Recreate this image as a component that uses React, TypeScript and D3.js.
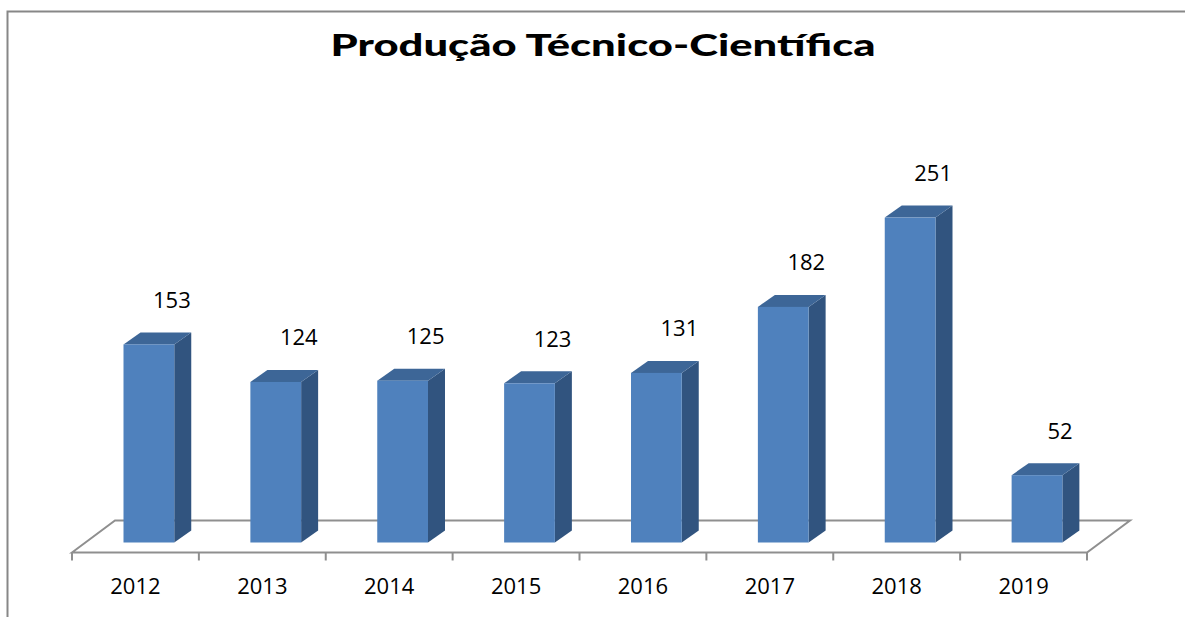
import React from "react";
import * as d3 from "d3";

const years = ["2012", "2013", "2014", "2015", "2016", "2017", "2018", "2019"];
const values = [153, 124, 125, 123, 131, 182, 251, 52];
const title = "Produção Técnico-Científica";

const W = 1185;
const H = 617;

export default function App() {
  const floorFrontY = 552.5;
  const floorX0 = 72;
  const floorX1 = 1087;
  const floorDX = 43;
  const floorDY = -32;
  const depthFrac = 10 / 32;
  const barDX = 17;
  const barDY = -12;
  const baseY = floorFrontY + floorDY * depthFrac;
  const shiftX = floorDX * depthFrac;

  const x = d3.scaleBand<string>().domain(years).range([floorX0, floorX1]).padding(0);
  const y = d3.scaleLinear().domain([0, 300]).range([baseY, baseY - 300 * 1.2945]);
  const barW = x.bandwidth() * 0.4;

  const floorPath = d3.path();
  floorPath.moveTo(floorX0, floorFrontY);
  floorPath.lineTo(floorX0 + floorDX, floorFrontY + floorDY);
  floorPath.lineTo(floorX1 + floorDX, floorFrontY + floorDY);
  floorPath.lineTo(floorX1, floorFrontY);
  floorPath.closePath();

  const ticks = years.map((_, i) => floorX0 + i * x.bandwidth()).concat([floorX1]);

  const font = "'Open Sans', 'DejaVu Sans', sans-serif";
  const titleFont = "Lato, 'Open Sans', sans-serif";

  return (
    <svg
      width={W}
      height={H}
      style={{ position: "absolute", left: 0, top: 0, background: "#fff" }}
    >
      <rect x={0} y={0} width={W} height={H} fill="#fff" />
      <path d={`M7.5,${H + 5} L7.5,11.5 L${W + 5},11.5`} fill="none" stroke="#878787" strokeWidth={2} />
      <text
        x={603}
        y={56}
        textAnchor="middle"
        fontFamily={titleFont}
        fontWeight={900}
        fontSize={30}
        textLength={545}
        lengthAdjust="spacingAndGlyphs"
        fill="#000"
      >
        {title}
      </text>
      <path d={floorPath.toString()} fill="none" stroke="#8f8f8f" strokeWidth={2} strokeLinejoin="miter" />
      {ticks.map((t, i) => (
        <line key={i} x1={t} x2={t} y1={floorFrontY} y2={floorFrontY + 8} stroke="#8f8f8f" strokeWidth={2} />
      ))}
      {years.map((yr, i) => {
        const v = values[i];
        const x0 = (x(yr) as number) + (x.bandwidth() - barW) / 2 + shiftX;
        const x1 = x0 + barW;
        const yt = y(v);
        const yb = y(0);
        const top = `M${x0},${yt} L${x0 + barDX},${yt + barDY} L${x1 + barDX},${yt + barDY} L${x1},${yt} Z`;
        const side = `M${x1},${yt} L${x1 + barDX},${yt + barDY} L${x1 + barDX},${yb + barDY} L${x1},${yb} Z`;
        return (
          <g key={yr}>
            <path d={side} fill="#31547F" />
            <path d={top} fill="#3D6697" />
            <rect x={x0} y={yt} width={barW} height={yb - yt} fill="#4F81BD" />
            <text
              x={x0 + barW / 2 + 23}
              y={yt + barDY - 24.5}
              textAnchor="middle"
              fontFamily={font}
              fontSize={22}
              fill="#000"
            >
              {v}
            </text>
          </g>
        );
      })}
      {years.map((yr) => (
        <text
          key={yr}
          x={(x(yr) as number) + x.bandwidth() / 2}
          y={594}
          textAnchor="middle"
          fontFamily={font}
          fontSize={22}
          fill="#000"
        >
          {yr}
        </text>
      ))}
    </svg>
  );
}
